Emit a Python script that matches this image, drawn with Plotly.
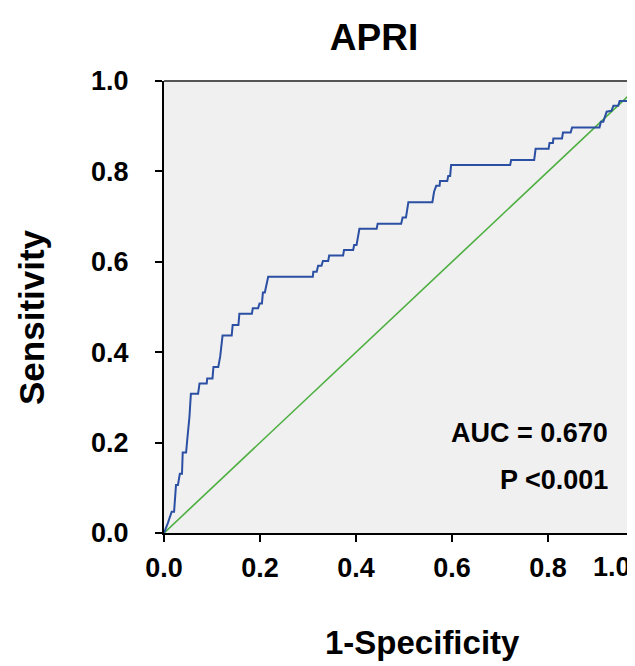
import plotly.graph_objects as go

# ROC curve for APRI
fpr = [0.000, 0.006, 0.008, 0.016, 0.021, 0.025, 0.029, 0.033, 0.0375, 0.039, 0.046, 0.049, 0.053, 0.056,
       0.071, 0.074, 0.089, 0.090, 0.101, 0.103, 0.113, 0.117, 0.119, 0.122, 0.141, 0.143, 0.155, 0.157,
       0.183, 0.185, 0.196, 0.199, 0.204, 0.206, 0.210, 0.215, 0.217, 0.310, 0.311, 0.318, 0.321, 0.328,
       0.331, 0.342, 0.344, 0.373, 0.375, 0.394, 0.396, 0.401, 0.407, 0.443, 0.445, 0.494, 0.497, 0.504,
       0.509, 0.559, 0.5625, 0.567, 0.574, 0.575, 0.590, 0.592, 0.596, 0.598, 0.721, 0.723, 0.771, 0.774,
       0.801, 0.803, 0.810, 0.811, 0.829, 0.831, 0.847, 0.850, 0.907, 0.910, 0.915, 0.922, 0.932, 0.936,
       0.946, 0.949, 0.978, 0.979, 1.000, 1.000]
tpr = [0.000, 0.014, 0.022, 0.047, 0.047, 0.106, 0.106, 0.131, 0.131, 0.178, 0.178, 0.213, 0.257, 0.308,
       0.308, 0.331, 0.331, 0.342, 0.342, 0.367, 0.367, 0.390, 0.412, 0.437, 0.437, 0.460, 0.460, 0.485,
       0.485, 0.497, 0.497, 0.508, 0.508, 0.532, 0.532, 0.556, 0.567, 0.567, 0.578, 0.578, 0.591, 0.591,
       0.602, 0.602, 0.614, 0.614, 0.626, 0.626, 0.637, 0.637, 0.673, 0.673, 0.684, 0.684, 0.698, 0.698,
       0.732, 0.732, 0.755, 0.768, 0.768, 0.779, 0.779, 0.790, 0.790, 0.814, 0.814, 0.825, 0.825, 0.850,
       0.850, 0.863, 0.863, 0.873, 0.873, 0.886, 0.886, 0.897, 0.897, 0.910, 0.910, 0.932, 0.934, 0.945,
       0.945, 0.956, 0.956, 0.967, 0.967, 1.000]

ref_x = [0, 1]
ref_y = [0, 1]

tick_vals = [0.0, 0.2, 0.4, 0.6, 0.8, 1.0]
tick_text = ["0.0", "0.2", "0.4", "0.6", "0.8", "1.0"]

title_text = "APRI"
x_title = "1-Specificity"
y_title = "Sensitivity"
auc_text = "AUC = 0.670"
p_text = "P <0.001"

FONT = "Liberation Sans, Arial, sans-serif"
TICK_SIZE = 27

# the page body has an 8px margin; size the figure so it ends at the window edge
W, H = 627, 658

fig = go.Figure()
fig.add_trace(go.Scatter(x=ref_x, y=ref_y, mode="lines",
                         line=dict(color="#4caf3f", width=1.6), hoverinfo="skip"))
fig.add_trace(go.Scatter(x=fpr, y=tpr, mode="lines",
                         line=dict(color="#2b4fa3", width=2)))

fig.update_layout(
    width=W, height=H,
    margin=dict(l=156, r=0, t=73, b=133, autoexpand=False),
    paper_bgcolor="white",
    plot_bgcolor="#f0f0f0",
    showlegend=False,
    font=dict(family=FONT, color="black"),
    title=dict(text="<b>%s</b>" % title_text, x=366 / W, xanchor="center", xref="container",
               y=1 - 29 / H, yanchor="middle", yref="container",
               font=dict(size=37, family=FONT, color="black")),
)

fig.update_xaxes(
    range=[0, 0.981], tickvals=tick_vals[:-1], ticktext=["<b>%s</b>" % t for t in tick_text[:-1]],
    showgrid=False, zeroline=False, showline=True, linecolor="black", linewidth=2,
    ticks="outside", ticklen=7, tickwidth=2, tickcolor="black", automargin=False,
    tickfont=dict(size=TICK_SIZE, family=FONT, color="black"), ticklabelstandoff=3,
)
fig.update_yaxes(
    range=[0, 1], tickvals=tick_vals, ticktext=["<b>%s</b>" % t for t in tick_text],
    showgrid=False, zeroline=False, showline=True, linecolor="black", linewidth=2,
    ticks="outside", ticklen=7, tickwidth=2, tickcolor="black", automargin=False,
    tickfont=dict(size=TICK_SIZE, family=FONT, color="black"), ticklabelstandoff=21,
)

# top border
fig.add_shape(type="line", xref="paper", yref="paper", x0=0, x1=1, y0=1, y1=1,
              line=dict(color="#555555", width=2))

# axis titles
fig.add_annotation(x=(422 - 164) / 471, y=(533 - 642) / 452, xref="paper", yref="paper",
                   text="<b>%s</b>" % x_title, showarrow=False, xanchor="center", yanchor="middle",
                   font=dict(size=33, family=FONT, color="black"))
fig.add_annotation(x=(31 - 164) / 471, y=(533 - 317) / 452, xref="paper", yref="paper",
                   text="<b>%s</b>" % y_title, showarrow=False, xanchor="center", yanchor="middle",
                   textangle=-90, font=dict(size=35, family=FONT, color="black"))

# the "1.0" x tick label, displaced inside the cropped edge
fig.add_annotation(x=0.933, y=(533 - 567) / 452, xref="x", yref="paper", text="<b>%s</b>" % tick_text[-1],
                   showarrow=False, xanchor="center", yanchor="middle",
                   font=dict(size=TICK_SIZE, family=FONT, color="black"))

fig.add_annotation(x=0.929, y=0.221, xref="x", yref="y", text="<b>%s</b>" % auc_text,
                   showarrow=False, xanchor="right", yanchor="middle",
                   font=dict(size=27, family=FONT, color="black"))
fig.add_annotation(x=0.929, y=0.117, xref="x", yref="y", text="<b>%s</b>" % p_text,
                   showarrow=False, xanchor="right", yanchor="middle",
                   font=dict(size=27, family=FONT, color="black"))

fig.write_html("out.html")
